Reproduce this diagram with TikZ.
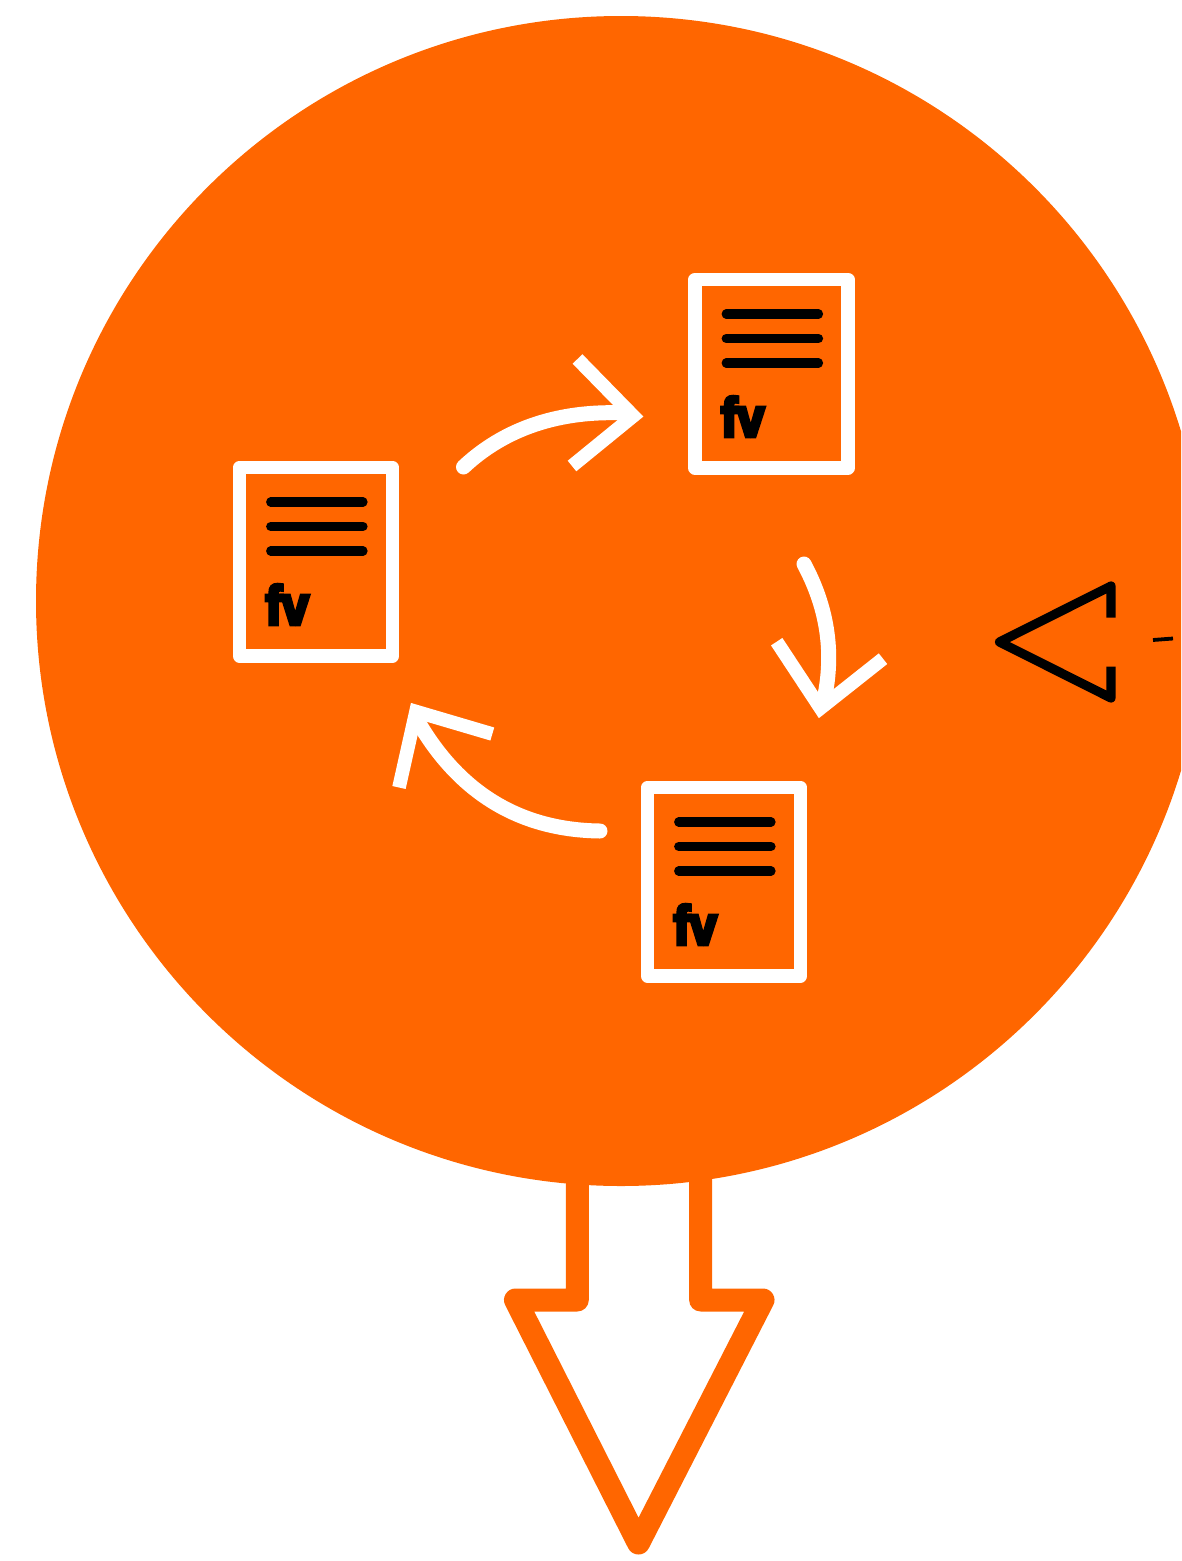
\documentclass[tikz,border=0pt]{standalone}
\usepackage{fontspec}
\setmainfont{Liberation Sans}
\newfontface\fvface[FakeBold=7,FakeStretch=0.88]{Liberation Sans Bold}
\definecolor{fvorange}{HTML}{FF6600}
\tikzset{
  x=1pt,y=-1pt,
  docframe/.style={draw=white,line width=13.4pt,line join=round},
  docline/.style={draw=black,line width=9.2pt,line cap=round},
  docmark/.style={inner sep=0pt,anchor=base west,text=black,font=\fontsize{55}{55}\fvface},
  flow/.style={draw=white,line width=15pt,line cap=round},
  flowhead/.style={draw=white,line width=13.6pt,miter limit=10},
  outarrow/.style={draw=fvorange,fill=white,line width=23pt,line join=round},
  glyph/.style={draw=black,line width=9.2pt,line join=round},
}
\newcommand{\docicon}[3]{%
  \begin{scope}[shift={(#1,#2)}]
    \draw[docframe] (239.5,467.5) rectangle (392.5,656);
    \draw[docline] (270.7,502) -- (363,502);
    \draw[docline] (270.7,526.5) -- (363,526.5);
    \draw[docline] (270.7,551) -- (363,551);
    \node[docmark] (#3) at (265.5,624.5) {fv};
  \end{scope}}
\begin{document}
\begin{tikzpicture}
\useasboundingbox (0,0) rectangle (1181,1561);
\begin{scope}
\clip (0,0) rectangle (1181,1561);
\draw[outarrow] (577.3,1150) -- (577.3,1300) -- (515.5,1300) -- (638.5,1543) -- (763,1300) -- (700.6,1300) -- (700.6,1150);
\fill[fvorange] (621,601) circle[radius=585];
\docicon{0}{0}{mark a}
\docicon{455.5}{-188}{mark b}
\docicon{408}{320}{mark c}
\draw[flow] (463.5,467) .. controls (505,428) and (560,410) .. (625,413);
\draw[flowhead] (577.5,359) -- (633.3,416) -- (572,466);
\draw[flow] (804,564) .. controls (826,605) and (835,650) .. (824,700);
\draw[flowhead] (776.7,641.7) -- (820.5,708.2) -- (883,658.7);
\draw[flow] (600,831) .. controls (522,830) and (462,795) .. (420,725);
\draw[flowhead] (399,787.5) -- (416,711.5) -- (492.3,734);
\draw[glyph] (1111,617.5) -- (1111,586) -- (999.5,642) -- (1111,698) -- (1111,666.5);
\draw[draw=black,line width=3.8pt] (1153,640) -- (1173,638.5);
\end{scope}
\end{tikzpicture}
\end{document}
